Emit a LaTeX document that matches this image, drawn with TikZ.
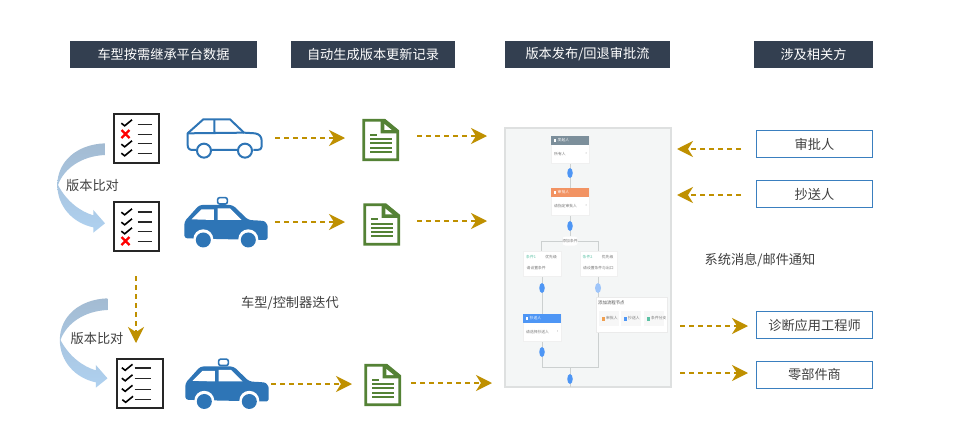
\documentclass[tikz,border=0pt]{standalone}
\usepackage{fontspec}
\setmainfont{Noto Sans CJK SC}
\usetikzlibrary{arrows.meta,calc,shapes.geometric}
\definecolor{navy}{HTML}{333F50}
\definecolor{gold}{HTML}{BF9000}
\definecolor{bluebd}{HTML}{3A7FBF}
\definecolor{carblue}{HTML}{2E75B6}
\definecolor{docgreen}{HTML}{548235}
\definecolor{txt}{HTML}{404040}
\definecolor{panelbg}{HTML}{F4F6F6}
\definecolor{panelbd}{HTML}{DEE0E0}
\definecolor{oval}{HTML}{4E96F5}
\definecolor{flow}{HTML}{CCD0D0}
\definecolor{tiny}{HTML}{777777}
\definecolor{hdgray}{HTML}{7C8F9B}
\definecolor{hdorange}{HTML}{F29363}
\definecolor{popgreen}{HTML}{5CC2A5}
\definecolor{poporange}{HTML}{F0A050}
\tikzset{
  header/.style={fill=navy,text=white,inner sep=0pt,anchor=center,font=\fontsize{13.2}{13.2}\selectfont},
  party/.style={draw=bluebd,line width=1.7pt,fill=white,text=txt,inner sep=0pt,anchor=center,font=\fontsize{13.2}{13.2}\selectfont},
  lbl/.style={text=txt,inner sep=0pt,font=\fontsize{13.2}{13.2}\selectfont},
  flowarrow/.style={draw=gold,line width=1.6pt,dash pattern=on 5pt off 4pt,-{Stealth[length=16pt,width=16pt,inset=5pt,fill=gold,sep=0pt]}},
  listbox/.style={draw=black!85,line width=2pt,fill=white},
  tinytxt/.style={text=tiny,inner sep=0pt,font=\fontsize{3.8}{4}\selectfont},
  flowline/.style={draw=flow,line width=1pt},
  ovalmark/.style={fill=oval,ellipse,minimum width=5.5pt,minimum height=10pt,inner sep=0pt},
}
\newcommand\chkmark[2]{\draw[black,line width=1.6pt,line join=miter] ($(#1,#2)+(-5.2,0.2)$) -- ($(#1,#2)+(-1.8,2.8)$) -- ($(#1,#2)+(5.5,-3.2)$);}
\newcommand\crossmark[2]{\draw[red,line width=2.2pt] ($(#1,#2)+(-4,-4)$) -- ($(#1,#2)+(4,4)$) ($(#1,#2)+(-4,4)$) -- ($(#1,#2)+(4,-4)$);}
\newcommand\rowline[4]{\draw[black!85,line width=#4] (#1,#3) -- (#2,#3);}
\newcommand\carout[2]{\begin{scope}[shift={(#1,#2)},x=0.3333pt,y=-0.3333pt]
  \draw[carblue,line width=2pt,line join=round]
    (468,180) -- (458,180) .. controls (448,180) and (443,175) .. (443,165) -- (443,130)
    -- (490,88) -- (570,88) -- (612,128) -- (645,130) .. controls (658,132) and (665,140) .. (665,152)
    -- (665,170) .. controls (665,177) and (660,180) .. (652,180) -- (640,180);
  \draw[carblue,line width=2pt] (515,180) -- (592,180) (443,130) -- (612,128) (523,88) -- (523,128);
  \draw[carblue,line width=2pt] (492,182) circle[radius=21] (615,182) circle[radius=21];
\end{scope}}
\newcommand\carfill[2]{\begin{scope}[shift={(#1,#2)},x=0.3333pt,y=-0.3333pt]
  \draw[carblue,line width=1.6pt,fill=white,rounded corners=2pt] (533,323) rectangle (562,342);
  \fill[carblue,rounded corners=3pt] (433,445) -- (433,395) -- (478,345) -- (578,345) -- (625,390)
     -- (662,392) .. controls (676,394) and (683,405) .. (683,418) -- (683,435) .. controls (683,445) and (678,450) .. (668,450) -- cycle;
  \fill[white] (455,388) -- (485,358) -- (522,358) -- (522,390) -- cycle
     (533,355) -- (570,355) -- (605,390) -- (533,390) -- cycle;
  \fill[white] (490,448) circle[radius=30] (625,448) circle[radius=30];
  \fill[carblue] (490,450) circle[radius=22.5] (625,450) circle[radius=22.5];
\end{scope}}
\newcommand\docicon[2]{\begin{scope}[shift={(#1,#2)},x=0.3333pt,y=-0.3333pt]
  \draw[docgreen,line width=2.8pt,fill=white,line join=miter] (71,61) -- (134,61) -- (173,93) -- (173,179) -- (71,179) -- cycle;
  \fill[docgreen] (122,58) -- (135,58) -- (176,92) -- (176,100) -- (122,100) -- cycle;
  \fill[white] (133,72) -- (155,90) -- (133,90) -- cycle;
  \fill[docgreen] (90,102) rectangle (112,107);
  \foreach \yy in {115,127,140,152} {\fill[docgreen] (90,\yy) rectangle (157,\yy+6);}
\end{scope}}
\newcommand\bendarrow[2]{\begin{scope}[shift={(#1,#2)},x=0.3333pt,y=-0.3333pt]
  \shade[top color={rgb,255:red,163;green,187;blue,210},bottom color={rgb,255:red,175;green,209;blue,240}]
    (195,160) .. controls (110,163) and (52,215) .. (52,285)
    .. controls (52,350) and (100,400) .. (160,412)
    -- (160,428) -- (195,400) -- (160,360) -- (160,376)
    .. controls (122,365) and (80,335) .. (54,285)
    .. controls (72,235) and (125,198) .. (195,195) -- cycle;
\end{scope}}
\newcommand\flowcard[7]{% name x1 y1 x2 hdrcolor title body
  \node[fill=white,draw=black!6,line width=0.4pt,minimum width=#4pt-#2pt,minimum height=27pt,inner sep=0pt,anchor=north west] (#1) at (#2,#3) {};
  \fill[#5] (#2,#3) rectangle (#4,#3+9);
  \fill[white] (#2+3,#3+2.5) rectangle (#2+5,#3+6);
  \node[tinytxt,text=white,anchor=west] at (#2+6.5,#3+4.5) {#6};
  \node[tinytxt,anchor=west] at (#2+3,#3+18) {#7};
  \node[tinytxt,anchor=east] at (#4-2,#3+17.5) {›};
}
\newcommand\condcard[5]{% name x1 y1 title body
  \node[fill=white,draw=black!6,line width=0.4pt,minimum width=37.5pt,minimum height=25pt,inner sep=0pt,anchor=north west] (#1) at (#2,#3) {};
  \node[tinytxt,text=popgreen,anchor=west] at (#2+3,#3+6) {#4};
  \node[tinytxt,anchor=east] at (#2+34,#3+6) {优先级};
  \node[tinytxt,anchor=west] at (#2+3.5,#3+17) {#5};
}
\begin{document}
\begin{tikzpicture}[x=1pt,y=-1pt]
\useasboundingbox (0,0) rectangle (975,439);
\fill[white] (0,0) rectangle (975,439);
% headers
\node[header,minimum width=187pt,minimum height=27pt] (h1) at (163.5,54.5) {车型按需继承平台数据};
\node[header,minimum width=164pt,minimum height=27pt] (h2) at (373,54.5) {自动生成版本更新记录};
\node[header,minimum width=165pt,minimum height=27pt] (h3) at (587.5,54.5) {版本发布/回退审批流};
\node[header,minimum width=119pt,minimum height=27pt] (h4) at (813.5,54.5) {涉及相关方};
% bending arrows
\bendarrow{40}{90}
\bendarrow{42.5}{245}
% checklist 1
\node[listbox,minimum width=45.5pt,minimum height=49.5pt,inner sep=0pt] (l1) at (136.5,138.5) {};
\chkmark{126.5}{123}\crossmark{125.5}{134}\chkmark{126.5}{144}\chkmark{126.5}{153}
\rowline{137.5}{152}{124.5}{0.7pt}\rowline{137.5}{152}{134}{0.7pt}\rowline{137.5}{152}{143.5}{1.6pt}\rowline{137.5}{152}{153.5}{1.6pt}
% checklist 2
\node[listbox,minimum width=45.5pt,minimum height=49.5pt,inner sep=0pt] (l2) at (136.5,226.5) {};
\chkmark{126.5}{212}\chkmark{126.5}{222}\chkmark{126.5}{231}\crossmark{125.5}{241}
\rowline{137.5}{152}{212}{1.6pt}\rowline{137.5}{152}{222}{1.6pt}\rowline{137.5}{152}{231.5}{1.6pt}\rowline{137.5}{152}{241}{0.7pt}
% checklist 3
\node[listbox,minimum width=45.5pt,minimum height=49.5pt,inner sep=0pt] (l3) at (140,383.5) {};
\chkmark{127}{367.5}\chkmark{127}{378}\chkmark{127}{388.5}\chkmark{127.5}{399.5}
\rowline{134.5}{151}{368}{1.6pt}\rowline{134.5}{151}{378.5}{1.6pt}\rowline{134.5}{151}{389}{0.8pt}\rowline{134.5}{151}{399.5}{1.6pt}
% cars
\carout{40}{90}
\carfill{40}{90}
\carfill{41}{251.5}
% documents
\docicon{340}{100}
\docicon{341}{184.5}
\docicon{342}{345}
% labels
\node[lbl] (t1) at (92.5,186) {版本比对};
\node[lbl] (t2) at (97,338.5) {版本比对};
\node[lbl] (t3) at (290,303) {车型/控制器迭代};
\node[lbl] (t4) at (760,260) {系统消息/邮件通知};
% panel
\node[fill=panelbg,draw=panelbd,line width=2pt,minimum width=166pt,minimum height=259pt,inner sep=0pt] (panel) at (587.5,257.5) {};
\draw[flowline] (570,162) -- (570,188) (570,215) -- (570,236)
  (541,251) -- (541,241) -- (598,241) -- (598,251)
  (542,276) -- (542,314) (542,340) -- (542,367) -- (598,367) -- (598,276)
  (570,367) -- (570,387);
\flowcard{c1}{551}{136}{589}{hdgray}{发起人}{所有人}
\flowcard{c2}{551}{188}{589}{hdorange}{审批人}{请指定审批人}
\node[fill=white,rounded corners=3pt,minimum width=15pt,minimum height=9pt,inner sep=0pt,tinytxt] (pill) at (570,241) {添加条件};
\condcard{c3}{523}{251}{条件1}{请设置条件}
\condcard{c4}{579.5}{251}{条件2}{请设置条件与出口}
\flowcard{c5}{523}{314}{560.5}{oval}{抄送人}{请选择抄送人}
\node[ovalmark] (o1) at (570,173) {};
\node[ovalmark] (o2) at (570,226) {};
\node[ovalmark] (o3) at (542,288) {};
\node[ovalmark,fill=oval!55!white,minimum width=6pt] (o4) at (598,288) {};
\node[ovalmark] (o5) at (542,352) {};
\node[ovalmark] (o6) at (570,379) {};
% pop-up
\node[fill=white,draw=black!8,line width=0.5pt,minimum width=71pt,minimum height=35pt,inner sep=0pt,anchor=north west] (pop) at (596,297) {};
\node[tinytxt,text=black!70,anchor=west,font=\fontsize{4.4}{5}\selectfont] at (598,303) {添加流程节点};
\foreach \xx/\tt/\cc in {599/审批人/poporange,621/抄送人/oval,644/条件分支/popgreen}{
  \fill[black!3] (\xx,311) rectangle (\xx+20,326);
  \fill[\cc] (\xx+3,316.5) rectangle (\xx+5.5,321);
  \node[tinytxt,anchor=west] at (\xx+7,318.5) {\tt};
}
% parties
\node[party,minimum width=116pt,minimum height=27pt] (p1) at (814.5,144) {审批人};
\node[party,minimum width=116pt,minimum height=27pt] (p2) at (814.5,194) {抄送人};
\node[party,minimum width=116pt,minimum height=27pt] (p3) at (814.5,325) {诊断应用工程师};
\node[party,minimum width=116pt,minimum height=27pt] (p4) at (814.5,375) {零部件商};
% connector ends
\coordinate (a1) at (275,138); \coordinate (a2) at (345,138);
\coordinate (b1) at (417,136); \coordinate (b2) at (487,136);
\coordinate (a3) at (275,222); \coordinate (a4) at (345,222);
\coordinate (b3) at (417,221); \coordinate (b4) at (487,221);
\coordinate (a5) at (271,384); \coordinate (a6) at (352,384);
\coordinate (b5) at (411,383); \coordinate (b6) at (492,383);
\coordinate (v1) at (136,276); \coordinate (v2) at (136,343);
\coordinate (r1) at (741,149); \coordinate (r2) at (677,149);
\coordinate (r3) at (741,195); \coordinate (r4) at (677,195);
\coordinate (r5) at (680,326); \coordinate (r6) at (748,326);
\coordinate (r7) at (680,373); \coordinate (r8) at (748,373);
\foreach \s/\e in {a1/a2,b1/b2,a3/a4,b3/b4,a5/a6,b5/b6,v1/v2,r1/r2,r3/r4,r5/r6,r7/r8}
  \draw[flowarrow] (\s) -- (\e);
\end{tikzpicture}
\end{document}
